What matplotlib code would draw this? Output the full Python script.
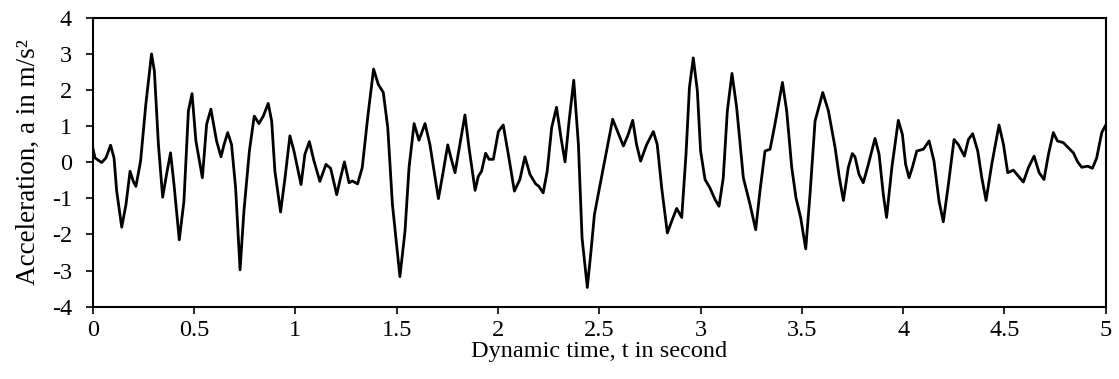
import numpy as np
import matplotlib.pyplot as plt

plt.rcParams['font.family'] = ['Liberation Serif', 'DejaVu Serif']
plt.rcParams['axes.unicode_minus'] = False

# values (time in s, acceleration in m/s^2)
t = [0.000, 0.011, 0.044, 0.065, 0.088, 0.105, 0.118, 0.143, 0.164, 0.184,
     0.200, 0.213, 0.236, 0.262, 0.290, 0.304, 0.324, 0.345, 0.364, 0.384,
     0.401, 0.427, 0.450, 0.472, 0.490, 0.509, 0.541, 0.562, 0.583, 0.611,
     0.633, 0.648, 0.666, 0.685, 0.705, 0.727, 0.746, 0.773, 0.797, 0.820,
     0.842, 0.866, 0.883, 0.899, 0.927, 0.949, 0.973, 0.993, 1.028, 1.047,
     1.069, 1.092, 1.121, 1.151, 1.174, 1.204, 1.223, 1.242, 1.265, 1.281,
     1.307, 1.330, 1.357, 1.386, 1.409, 1.434, 1.456, 1.479, 1.516, 1.541,
     1.561, 1.586, 1.610, 1.640, 1.664, 1.706, 1.730, 1.752, 1.768, 1.788,
     1.812, 1.837, 1.857, 1.887, 1.903, 1.919, 1.939, 1.956, 1.977, 2.002,
     2.026, 2.051, 2.081, 2.108, 2.133, 2.158, 2.186, 2.202, 2.223, 2.243,
     2.265, 2.289, 2.311, 2.331, 2.351, 2.374, 2.397, 2.415, 2.441, 2.459,
     2.476, 2.503, 2.533, 2.566, 2.589, 2.619, 2.643, 2.665, 2.684, 2.704,
     2.734, 2.767, 2.786, 2.808, 2.836, 2.857, 2.882, 2.907, 2.928, 2.945,
     2.964, 2.984, 3.000, 3.022, 3.046, 3.071, 3.091, 3.112, 3.132, 3.155,
     3.178, 3.211, 3.244, 3.272, 3.293, 3.318, 3.343, 3.367, 3.404, 3.425,
     3.450, 3.471, 3.494, 3.519, 3.540, 3.565, 3.603, 3.631, 3.664, 3.685,
     3.705, 3.729, 3.749, 3.762, 3.782, 3.803, 3.828, 3.861, 3.881, 3.902,
     3.918, 3.944, 3.976, 3.996, 4.012, 4.029, 4.045, 4.067, 4.100, 4.128,
     4.152, 4.177, 4.198, 4.223, 4.251, 4.272, 4.302, 4.322, 4.343, 4.368,
     4.388, 4.409, 4.437, 4.473, 4.495, 4.516, 4.544, 4.569, 4.593, 4.618,
     4.646, 4.671, 4.695, 4.717, 4.741, 4.761, 4.791, 4.815, 4.840, 4.861,
     4.881, 4.911, 4.934, 4.955, 4.980, 5.000]
acc = [0.40, 0.12, -0.01, 0.12, 0.47, 0.12, -0.80, -1.80, -1.17, -0.25,
       -0.53, -0.67, 0.03, 1.61, 3.00, 2.53, 0.49, -0.97, -0.34, 0.26,
       -0.62, -2.15, -1.08, 1.42, 1.90, 0.59, -0.43, 1.05, 1.47, 0.59,
       0.15, 0.49, 0.82, 0.49, -0.71, -2.98, -1.36, 0.31, 1.28, 1.07,
       1.28, 1.63, 1.14, -0.25, -1.38, -0.43, 0.73, 0.31, -0.62, 0.22,
       0.57, 0.03, -0.53, -0.06, -0.17, -0.90, -0.43, 0.01, -0.57, -0.52,
       -0.60, -0.15, 1.24, 2.58, 2.16, 1.93, 0.96, -1.17, -3.17, -1.92,
       -0.15, 1.07, 0.61, 1.07, 0.49, -1.01, -0.25, 0.48, 0.12, -0.29,
       0.49, 1.31, 0.40, -0.78, -0.39, -0.25, 0.25, 0.08, 0.08, 0.85,
       1.03, 0.22, -0.80, -0.48, 0.15, -0.34, -0.60, -0.67, -0.85, -0.25,
       0.96, 1.52, 0.68, 0.01, 1.14, 2.27, 0.49, -2.10, -3.47, -2.47,
       -1.45, -0.65, 0.22, 1.19, 0.87, 0.45, 0.77, 1.16, 0.49, 0.03,
       0.49, 0.85, 0.49, -0.71, -1.96, -1.64, -1.28, -1.53, 0.22, 2.07,
       2.89, 1.98, 0.31, -0.48, -0.71, -1.03, -1.22, -0.43, 1.42, 2.46,
       1.52, -0.43, -1.17, -1.87, -0.80, 0.31, 0.36, 1.05, 2.21, 1.42,
       -0.15, -0.99, -1.54, -2.40, -0.90, 1.14, 1.93, 1.42, 0.40, -0.43,
       -1.06, -0.15, 0.24, 0.15, -0.34, -0.57, -0.06, 0.66, 0.22, -0.90,
       -1.53, -0.15, 1.16, 0.77, -0.06, -0.43, -0.15, 0.31, 0.36, 0.59,
       0.03, -1.08, -1.65, -0.62, 0.63, 0.49, 0.17, 0.63, 0.79, 0.31,
       -0.43, -1.06, -0.06, 1.03, 0.49, -0.29, -0.22, -0.39, -0.55, -0.15,
       0.17, -0.29, -0.48, 0.22, 0.82, 0.59, 0.54, 0.40, 0.26, 0.01,
       -0.14, -0.11, -0.17, 0.12, 0.82, 1.03]

xticks = [0, 0.5, 1, 1.5, 2, 2.5, 3, 3.5, 4, 4.5, 5]
xticklabels = ['0', '0.5', '1', '1.5', '2', '2.5', '3', '3.5', '4', '4.5', '5']
yticks = [-4, -3, -2, -1, 0, 1, 2, 3, 4]

fig = plt.figure(figsize=(11.19, 3.79), dpi=100)
ax = fig.add_axes([0.0829, 0.191, 0.9053, 0.762])

ax.plot(t, acc, color='black', lw=2.0, solid_joinstyle='round')

ax.set_xlim(0, 5)
ax.set_ylim(-4, 4)
ax.set_xticks(xticks)
ax.set_xticklabels(xticklabels)
ax.set_yticks(yticks)
ax.tick_params(direction='out', length=5, width=1.2, labelsize=17.5)
ax.tick_params(axis='x', pad=5)
ax.tick_params(axis='y', pad=10)
for s in ax.spines.values():
    s.set_linewidth(1.5)

ax.set_xlabel('Dynamic time, t in second', fontsize=17.5, labelpad=0)
ax.set_ylabel('Acceleration, a in m/s²', fontsize=19.5, labelpad=8)

fig.savefig('out.png', dpi=100)
